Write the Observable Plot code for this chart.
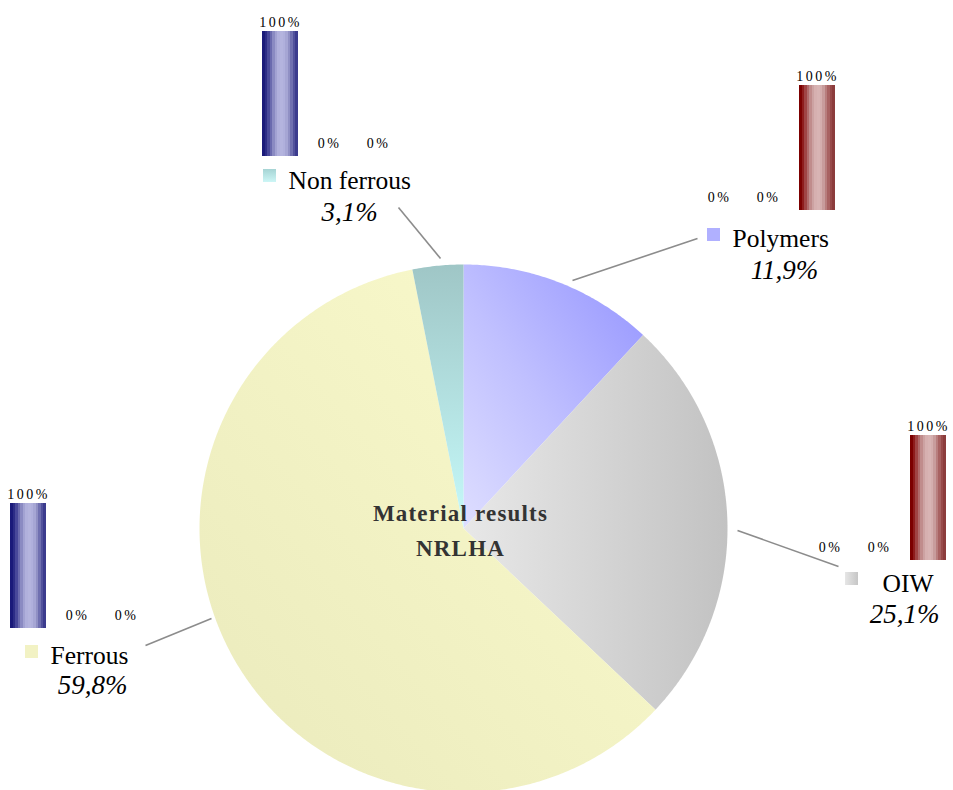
<!DOCTYPE html>
<html>
<head>
<meta charset="utf-8">
<script src="https://cdn.jsdelivr.net/npm/d3@7"></script>
<script src="https://cdn.jsdelivr.net/npm/@observablehq/plot@0.6"></script>
<style>
  html, body { margin: 0; padding: 0; background: #fff; }
  #chart { position: relative; width: 953px; height: 790px; overflow: hidden; background: #fff; }
  #chart svg { position: absolute; overflow: visible; }
</style>
</head>
<body>
<div id="chart"></div>
<script>
// ---------- DATA ----------
const categories = ["Polymers", "OIW", "Ferrous", "Non ferrous"];
const shares = [11.9, 25.1, 59.8, 3.1];
const shareLabels = ["11,9%", "25,1%", "59,8%", "3,1%"];
const subCategories = ["S1", "S2", "S3"];
const polymersSub = [0, 0, 100];
const oiwSub = [0, 0, 100];
const ferrousSub = [100, 0, 0];
const nonFerrousSub = [100, 0, 0];
const titleLines = ["Material results", "NRLHA"];

// ---------- LAYOUT / STYLE ----------
const W = 953, H = 790;
const pieGeom = { cx: 463, cy: 528, r: 264 };
const serif = "'Liberation Serif', 'Times New Roman', Times, serif";
const sliceFill = {
  "Polymers": "url(#gPolymers)",
  "OIW": "url(#gOIW)",
  "Ferrous": "url(#gFerrous)",
  "Non ferrous": "url(#gNonFerrous)"
};
// label anchors: marker box, name text, percent text, leader line
const labelLayout = {
  "Polymers":    { mx: 707, my: 228, tx: 732, ty: 246, px: 784, py: 278, lx1: 572, ly1: 280, lx2: 697, ly2: 238 },
  "OIW":         { mx: 845, my: 572, tx: 882, ty: 591, px: 904, py: 622, lx1: 737, ly1: 530, lx2: 838, ly2: 566 },
  "Ferrous":     { mx: 25,  my: 645, tx: 50,  ty: 663, px: 92,  py: 693, lx1: 211, ly1: 618, lx2: 145, ly2: 645 },
  "Non ferrous": { mx: 263, my: 169, tx: 288, ty: 188, px: 349, py: 220, lx1: 440, ly1: 258, lx2: 398, ly2: 207 }
};
const titleLayout = { x: 460, y: [520, 555] };
const miniLayout = {
  "Non ferrous": { left: 255.5, top: 1,   values: nonFerrousSub, fill: "url(#stripeBlue)" },
  "Polymers":    { left: 694.5, top: 55,  values: polymersSub,   fill: "url(#stripeRed)" },
  "OIW":         { left: 805.5, top: 405, values: oiwSub,        fill: "url(#stripeRed)" },
  "Ferrous":     { left: 3.5,   top: 473, values: ferrousSub,    fill: "url(#stripeBlue)" }
};

// ---------- GRADIENT DEFS ----------
function addDefs(svgNode) {
  const defs = d3.select(svgNode).insert("defs", ":first-child");
  const lin = (id, x1, y1, x2, y2, stops) => {
    const g = defs.append("linearGradient").attr("id", id)
      .attr("x1", x1).attr("y1", y1).attr("x2", x2).attr("y2", y2);
    stops.forEach(([o, c]) => g.append("stop").attr("offset", o).attr("stop-color", c));
  };
  lin("gPolymers", 0, 1, 1, 0, [[0, "#dedeff"], [0.45, "#c0c0ff"], [1, "#9494ff"]]);
  lin("gOIW", 0, 0, 1, 0, [[0, "#e8e8e8"], [1, "#c2c2c2"]]);
  lin("gFerrous", 1, 0, 0, 1, [[0, "#fbfbcd"], [1, "#eaeabc"]]);
  lin("gNonFerrous", 0, 0, 0, 1, [[0, "#9fc6c6"], [1, "#c6fafa"]]);
  lin("mkNonFerrous", 0, 0, 0, 1, [[0, "#a6d4d4"], [1, "#cdf6f6"]]);
  lin("mkOIW", 0, 0, 1, 0, [[0, "#e6e6e6"], [1, "#c6c6c6"]]);
  const banded = (id, cols) => {
    const g = defs.append("linearGradient").attr("id", id)
      .attr("x1", 0).attr("y1", 0).attr("x2", 1).attr("y2", 0);
    const n = cols.length;
    cols.forEach((c, i) => {
      g.append("stop").attr("offset", i / n).attr("stop-color", c);
      g.append("stop").attr("offset", (i + 1) / n).attr("stop-color", c);
    });
  };
  banded("stripeBlue", ["#1a1a7a", "#2c2c86", "#48489a", "#6a6aae", "#8a8ac2", "#a2a2d2", "#b0b0dc", "#b4b4de",
                        "#b0b0dc", "#a6a6d4", "#9090c4", "#7070b0", "#52529c", "#3c3c8e"]);
  banded("stripeRed", ["#7c0000", "#8e1c1c", "#a04444", "#b06a6a", "#c08c8c", "#cca2a2", "#d6b0b0", "#d8b4b4",
                       "#d4aeae", "#c89c9c", "#b87e7e", "#a86262", "#984a4a", "#8c3c3c"]);
}

// ---------- PIE GEOMETRY (from shares) ----------
const total = d3.sum(shares);
let acc = 0;
const slicePolys = categories.map((cat, i) => {
  const a0 = acc / total * 2 * Math.PI;
  acc += shares[i];
  const a1 = acc / total * 2 * Math.PI;
  const pts = [{ x: pieGeom.cx, y: pieGeom.cy }];
  const n = Math.max(4, Math.ceil((a1 - a0) / (Math.PI / 360)));
  for (let k = 0; k <= n; k++) {
    const a = a0 + (a1 - a0) * k / n;
    pts.push({ x: pieGeom.cx + pieGeom.r * Math.sin(a), y: pieGeom.cy - pieGeom.r * Math.cos(a) });
  }
  return { cat, pts };
});

const labelRows = categories.map((cat, i) => ({ cat, share: shareLabels[i], ...labelLayout[cat] }));
const titleRows = titleLines.map((t, i) => ({ t, x: titleLayout.x, y: titleLayout.y[i] }));

const main = Plot.plot({
  width: W, height: H,
  margin: 0,
  x: { domain: [0, W], range: [0, W], axis: null },
  y: { domain: [0, H], range: [0, H], axis: null },
  style: { background: "transparent", fontFamily: serif },
  marks: [
    ...slicePolys.map(s => Plot.line(s.pts, { x: "x", y: "y", fill: sliceFill[s.cat], stroke: "none", curve: "linear-closed" })),
    Plot.link(labelRows, { x1: "lx1", y1: "ly1", x2: "lx2", y2: "ly2", stroke: "#8c8c8c", strokeWidth: 1.6 }),
    Plot.rect(labelRows, { x1: "mx", y1: "my", x2: d => d.mx + 13, y2: d => d.my + 13,
      fill: d => ({ "Polymers": "#b0b0ff", "OIW": "url(#mkOIW)", "Ferrous": "#f2f2c4", "Non ferrous": "url(#mkNonFerrous)" })[d.cat] }),
    Plot.text(labelRows, { x: "tx", y: "ty", text: "cat", textAnchor: "start", lineAnchor: "bottom", fontSize: 25.5, fill: "#000" }),
    Plot.text(labelRows, { x: "px", y: "py", text: "share", textAnchor: "middle", lineAnchor: "bottom", fontSize: 27, fontStyle: "italic", fill: "#000" }),
    Plot.text(titleRows, { x: "x", y: "y", text: "t", textAnchor: "middle", lineAnchor: "bottom", fontSize: 23, fontWeight: "bold", fill: "#333" })
  ]
});
main.style.left = "0px"; main.style.top = "0px";
addDefs(main);
d3.select(main).selectAll("text").filter(function () { return titleLines.includes(this.textContent); })
  .attr("letter-spacing", "1.2");
document.getElementById("chart").appendChild(main);

// ---------- MINI BAR CHARTS ----------
categories.forEach(cat => {
  const m = miniLayout[cat];
  const rows = subCategories.map((s, i) => ({ s, v: m.values[i], label: m.values[i] + "%" }));
  const mini = Plot.plot({
    width: 147, height: 157,
    marginTop: 30, marginBottom: 2, marginLeft: 0, marginRight: 0,
    x: { domain: subCategories, paddingInner: 0.265, paddingOuter: 0.1325, axis: null },
    y: { domain: [0, 100], axis: null },
    style: { background: "transparent", fontFamily: serif, letterSpacing: "2.5px", color: "#000" },
    marks: [
      Plot.barY(rows, { x: "s", y: "v", fill: m.fill }),
      Plot.text(rows.filter(d => d.v > 0), { x: "s", y: "v", text: "label", dy: -5, lineAnchor: "bottom", fontSize: 14, fontWeight: "normal", fill: "#000" }),
      Plot.text(rows.filter(d => d.v === 0), { x: "s", y: "v", text: "label", dy: -9, lineAnchor: "bottom", fontSize: 14, fontWeight: "normal", fill: "#000" })
    ]
  });
  mini.style.left = m.left + "px";
  mini.style.top = m.top + "px";
  addDefs(mini);
  document.getElementById("chart").appendChild(mini);
});
</script>
</body>
</html>
